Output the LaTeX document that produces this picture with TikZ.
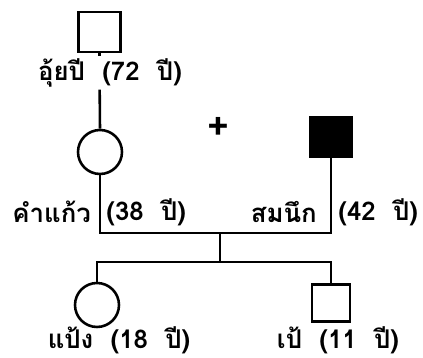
\documentclass[tikz,border=0pt]{standalone}
\usepackage{fontspec}
\newfontfamily\thaifont[Script=Thai]{Loma}
\usepackage{tikz}

\tikzset{
    male/.style={draw, line width=2.2pt, minimum width=1.26cm, minimum height=1.2cm, inner sep=0pt},
    female/.style={draw, circle, line width=2.2pt, minimum size=1.32cm, inner sep=0pt},
    personlbl/.style={font=\thaifont\bfseries\fontsize{22}{24}\selectfont, inner sep=1pt}
}

\begin{document}
\begin{tikzpicture}[line width=2.2pt]
    \useasboundingbox (0,0) rectangle (12.69,10.74);
    % Grandfather and label
    \node[male] (grandpa) at (2.99,9.78) {};
    \node[personlbl] (grandpalbl) at (3.3,8.55) {อุ้ยปี\ \ (72\ \ ปี)};
    \draw (grandpa.south) -- (grandpa.south |- grandpalbl.north);
    % Parents
    \node[female] (mother) at (3.0,6.18) {};
    \draw (grandpalbl.south -| grandpa.south) -- (mother.north);
    \node[font=\thaifont\bfseries\fontsize{32}{32}\selectfont, inner sep=0pt] (plus) at (6.54,6.9) {+};
    \node[male, fill=black] (father) at (9.93,6.63) {};
    \node[personlbl, anchor=east] (motherlbl) at (2.8,4.38) {คำแก้ว};
    \node[personlbl, anchor=west] (motherage) at (3.12,4.38) {(38\ \ ปี)};
    \node[personlbl, anchor=east] (fatherlbl) at (9.58,4.38) {สมนึก};
    \node[personlbl, anchor=west] (fatherage) at (10.08,4.38) {(42\ \ ปี)};
    % Marriage line
    \coordinate (mm) at (3.0,3.75);
    \coordinate (mid) at (6.6,3.75);
    \draw (mother.south) -- (mm) -- (mm -| father.south) -- (father.south);
    % Children
    \node[female] (daughter) at (2.91,1.59) {};
    \node[male, minimum width=1.14cm, minimum height=1.11cm] (son) at (9.93,1.65) {};
    \coordinate (sib) at (6.6,2.88);
    \draw (mid) -- (sib);
    \draw (daughter.north) -- (daughter.north |- sib) -- (son.north |- sib) -- (son.north);
    \node[personlbl] (daughterlbl) at (3.57,0.54) {แป้ง\ \ (18\ \ ปี)};
    \node[personlbl] (sonlbl) at (10.14,0.54) {เป้\ \ (11\ \ ปี)};
\end{tikzpicture}
\end{document}
